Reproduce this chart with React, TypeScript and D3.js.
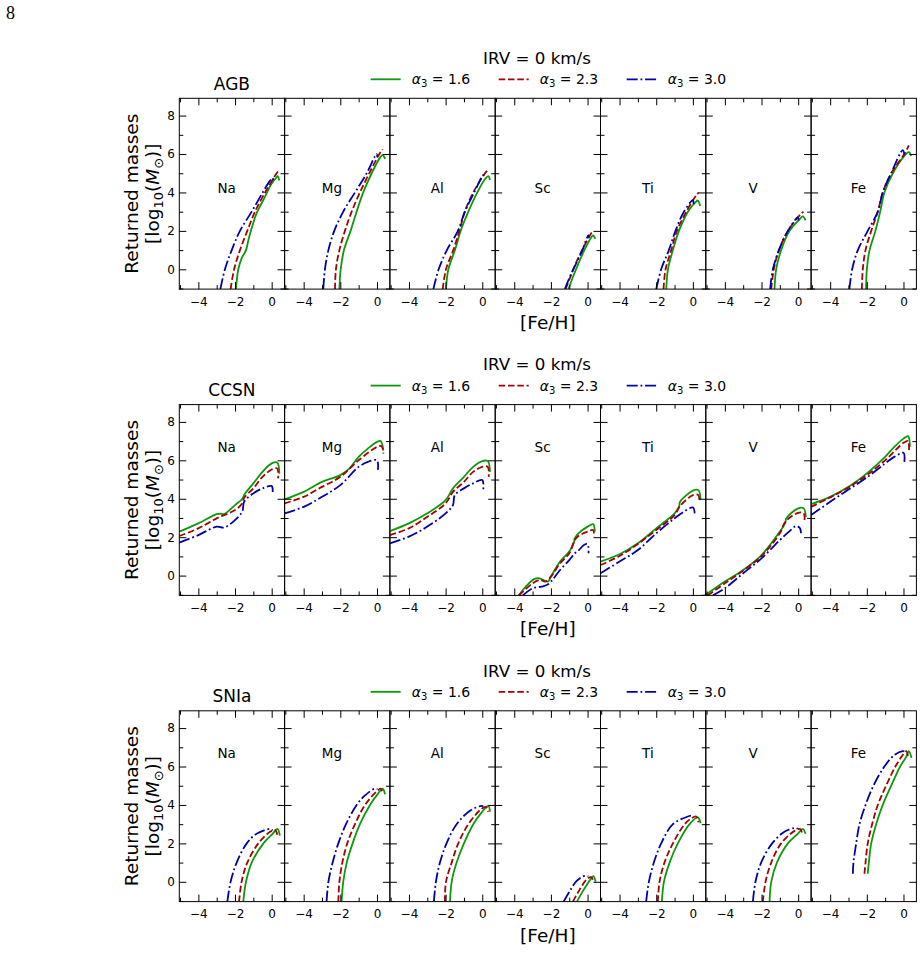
import { useEffect, useRef } from "react";
import * as d3 from "d3";

type Pt = [number, number];

const ELEMENTS = ["Na", "Mg", "Al", "Sc", "Ti", "V", "Fe"];
const SOURCES = ["AGB", "CCSN", "SNIa"];
const ALPHAS = ["1.6", "2.3", "3.0"];
const LEGEND_TITLE = "IRV = 0 km/s";
const X_MAJOR = [-4, -2, 0];
const X_MINOR = [-5, -3, -1];
const Y_MAJOR = [0, 2, 4, 6, 8];
const Y_MINOR = [-1, 1, 3, 5, 7];
// height (in log M) where the element name sits, per source
const LABEL_LEVEL = [4.2, 6.7, 6.7];

// AGB yields, one curve per element
const agbA16: Pt[][] = [
  [[-1.95, -1.03], [-1.82, 0], [-1.64, 0.57], [-1.4, 1.0], [-1.27, 1.53], [-1.09, 2.14], [-0.82, 2.92], [-0.36, 3.78], [-0.05, 4.39], [0.27, 4.79], [0.33, 4.85], [0.42, 4.62]],
  [[-2.05, -1.03], [-1.98, 0], [-1.8, 1], [-1.44, 2], [-1.11, 3], [-0.75, 4], [-0.29, 5], [0.16, 5.8], [0.31, 5.95], [0.44, 5.75]],
  [[-1.98, -1.03], [-1.85, 0], [-1.49, 1], [-1.18, 2], [-0.76, 3], [-0.27, 4], [0.15, 4.7], [0.33, 4.85], [0.42, 4.65]],
  [[-1.04, -1.03], [-0.8, -0.4], [-0.5, 0.3], [-0.2, 0.95], [0.1, 1.5], [0.3, 1.76], [0.42, 1.58]],
  [[-1.45, -1.03], [-1.36, 0], [-1.09, 1], [-0.76, 2], [-0.27, 3], [0.15, 3.5], [0.27, 3.58], [0.4, 3.3]],
  [[-1.29, -1.03], [-1.2, 0], [-0.93, 1], [-0.47, 2], [0.07, 2.6], [0.25, 2.75], [0.4, 2.55]],
  [[-2.04, -1.03], [-2.0, 0], [-1.85, 1], [-1.53, 2], [-1.27, 3], [-1.04, 4], [-0.58, 5], [-0.04, 5.8], [0.29, 6.1], [0.42, 5.9]],
];
const agbA23: Pt[][] = [
  [[-2.24, -1.03], [-2.05, 0], [-1.73, 1], [-1.33, 2], [-0.91, 3], [-0.36, 4], [-0.05, 4.5], [0.2, 4.9], [0.35, 5.1]],
  [[-2.29, -1.03], [-2.24, 0], [-2.05, 1], [-1.75, 2], [-1.38, 3], [-0.93, 4], [-0.42, 5], [0.13, 6], [0.31, 6.25]],
  [[-2.16, -1.03], [-1.98, 0], [-1.58, 1], [-1.25, 2], [-0.95, 3], [-0.49, 4], [0.15, 5], [0.33, 5.2]],
  [[-1.2, -1.03], [-0.9, -0.3], [-0.6, 0.4], [-0.3, 1.0], [0, 1.55], [0.25, 1.95], [0.33, 2.02]],
  [[-1.6, -1.03], [-1.49, 0], [-1.18, 1], [-0.87, 2], [-0.36, 3], [0.22, 3.9], [0.33, 4.0]],
  [[-1.47, -1.03], [-1.33, 0], [-1.05, 1], [-0.56, 2], [0.16, 2.9], [0.29, 3.0]],
  [[-2.27, -1.03], [-2.22, 0], [-2.07, 1], [-1.76, 2], [-1.4, 3], [-1.13, 4], [-0.67, 5], [0.05, 6], [0.29, 6.45]],
];
const agbA30: Pt[][] = [
  [[-2.8, -1.03], [-2.55, 0], [-2.18, 1], [-1.73, 2], [-1.09, 3], [-0.49, 4], [-0.1, 4.6], [0.05, 4.75], [0.08, 4.55]],
  [[-2.93, -1.03], [-2.84, 0], [-2.65, 1], [-2.33, 2], [-1.84, 3], [-1.2, 4], [-0.56, 5], [-0.02, 6], [0.02, 5.85]],
  [[-2.67, -1.03], [-2.38, 0], [-1.93, 1], [-1.33, 2], [-0.95, 3], [-0.44, 4], [0.05, 4.9], [0.08, 4.7]],
  [[-1.24, -1.03], [-0.95, -0.35], [-0.6, 0.35], [-0.3, 0.95], [-0.05, 1.6], [0.05, 1.78], [0.08, 1.65]],
  [[-2.0, -1.03], [-1.73, 0], [-1.31, 1], [-0.95, 2], [-0.49, 3], [0.0, 3.6], [0.04, 3.4]],
  [[-1.53, -1.03], [-1.38, 0], [-1.05, 1], [-0.56, 2], [-0.02, 2.7], [0.03, 2.55]],
  [[-2.95, -1.03], [-2.8, 0], [-2.49, 1], [-1.95, 2], [-1.4, 3], [-1.13, 4], [-0.67, 5], [-0.04, 6.2], [0.05, 5.95]],
];

// core-collapse SN yields
const ccsnA16: Pt[][] = [
  [[-5.04, 2.29], [-4, 2.72], [-3, 3.2], [-2.8, 3.22], [-2.6, 3.2], [-2, 3.67], [-1.6, 4.0], [-1.5, 4.2], [-1, 4.8], [-0.5, 5.4], [0, 5.84], [0.3, 5.89], [0.42, 5.3]],
  [[-5.04, 3.97], [-4, 4.36], [-3, 4.88], [-2, 5.23], [-1.5, 5.58], [-1, 6.18], [-0.5, 6.61], [0, 6.96], [0.2, 7.0], [0.35, 6.5]],
  [[-5.04, 2.32], [-4, 2.72], [-3, 3.24], [-2, 3.93], [-1.6, 4.54], [-1, 5.14], [-0.5, 5.66], [0, 5.96], [0.3, 5.96], [0.42, 5.4]],
  [[-3.75, -1.03], [-3.3, -0.5], [-2.89, -0.17], [-2.62, -0.14], [-2.16, -0.31], [-2, -0.05], [-1.5, 0.73], [-1, 1.25], [-0.75, 1.7], [-0.7, 1.94], [-0.5, 2.2], [0, 2.55], [0.3, 2.68], [0.4, 2.29]],
  [[-5.04, 0.73], [-4, 1.11], [-3, 1.68], [-2, 2.46], [-1, 3.24], [-0.75, 3.6], [-0.7, 3.84], [0, 4.42], [0.3, 4.45], [0.42, 3.93]],
  [[-5.04, -1.0], [-4, -0.31], [-3, 0.29], [-2, 1.07], [-1, 2.29], [-0.7, 2.75], [-0.65, 2.98], [0, 3.5], [0.3, 3.5], [0.42, 3.06]],
  [[-5.04, 3.72], [-4, 4.1], [-3, 4.62], [-2, 5.32], [-1, 6.18], [-0.5, 6.7], [0, 7.13], [0.25, 7.26], [0.35, 6.7]],
];
const ccsnA23: Pt[][] = [
  [[-5.04, 2.06], [-4, 2.46], [-3, 2.98], [-2, 3.41], [-1.6, 3.76], [-1.5, 4.05], [-1, 4.54], [-0.5, 5.14], [0, 5.52], [0.3, 5.58], [0.35, 5.06]],
  [[-5.04, 3.76], [-4, 4.1], [-3, 4.62], [-2, 5.14], [-1, 6.0], [0, 6.7], [0.25, 6.74], [0.35, 6.35]],
  [[-5.04, 2.11], [-4, 2.46], [-3, 3.06], [-2, 3.76], [-1.6, 4.36], [-1, 4.88], [-0.5, 5.4], [0, 5.66], [0.3, 5.66], [0.35, 5.14]],
  [[-3.75, -1.03], [-3, -0.4], [-2.6, -0.22], [-2.3, -0.31], [-2, -0.05], [-1.5, 0.64], [-1, 1.16], [-0.7, 1.85], [-0.5, 2.06], [0, 2.29], [0.3, 2.37], [0.35, 2.03]],
  [[-5.04, 0.55], [-4, 1.02], [-3, 1.65], [-2, 2.37], [-1, 3.15], [-0.7, 3.62], [0, 4.19], [0.3, 4.19], [0.35, 3.84]],
  [[-4.93, -1.03], [-4, -0.4], [-3, 0.26], [-2, 1.02], [-1, 2.2], [-0.7, 2.8], [0, 3.27], [0.3, 3.24], [0.35, 2.89]],
  [[-5.04, 3.58], [-4, 4.07], [-3, 4.59], [-2, 5.23], [-1, 6.0], [0, 6.91], [0.25, 7.01], [0.3, 6.53]],
];
const ccsnA30: Pt[][] = [
  [[-5.04, 1.72], [-4, 2.11], [-3, 2.55], [-2.6, 2.5], [-2, 2.89], [-1.6, 3.35], [-1.5, 3.85], [-1, 4.28], [-0.5, 4.54], [0, 4.66], [0.05, 4.2]],
  [[-5.04, 3.24], [-4, 3.58], [-3, 4.1], [-2, 4.71], [-1, 5.66], [-0.5, 5.92], [0, 6.0], [0.05, 5.5]],
  [[-5.04, 1.68], [-4, 2.03], [-3, 2.55], [-2, 3.24], [-1.6, 3.67], [-1.5, 4.19], [-1, 4.54], [-0.5, 4.8], [0, 4.97], [0.05, 4.36]],
  [[-3.53, -1.03], [-3, -0.66], [-2.5, -0.57], [-2.2, -0.48], [-2, -0.31], [-1.5, 0.29], [-1, 0.81], [-0.7, 1.16], [-0.5, 1.3], [-0.2, 1.59], [0, 1.64], [0.05, 1.16]],
  [[-5.04, 0.12], [-4, 0.73], [-3, 1.33], [-2, 2.2], [-1, 2.98], [-0.5, 3.32], [0, 3.55], [0.1, 3.24]],
  [[-4.65, -1.03], [-4, -0.66], [-3, 0.12], [-2, 0.9], [-1, 1.85], [-0.5, 2.29], [-0.1, 2.58], [0.1, 2.46], [0.15, 2.2]],
  [[-5.04, 3.15], [-4, 3.84], [-3, 4.48], [-2, 5.11], [-1, 5.84], [-0.5, 6.18], [0, 6.39], [0.05, 5.92]],
];

// type Ia SN yields
const sniaA16: Pt[][] = [
  [[-1.55, -1.03], [-1.4, 0], [-1.09, 1], [-0.45, 2], [0.05, 2.5], [0.31, 2.75], [0.45, 2.4]],
  [[-1.93, -1.03], [-1.84, 0], [-1.65, 1], [-1.33, 2], [-0.93, 3], [-0.38, 4], [0.07, 4.6], [0.31, 4.85], [0.44, 4.55]],
  [[-1.76, -1.03], [-1.67, 0], [-1.4, 1], [-1.0, 2], [-0.49, 3], [-0.04, 3.6], [0.33, 3.95], [0.42, 3.65]],
  [[-0.58, -1.03], [-0.3, -0.55], [0, -0.1], [0.2, 0.18], [0.32, 0.3], [0.44, 0.0]],
  [[-1.69, -1.03], [-1.58, 0], [-1.27, 1], [-0.82, 2], [-0.18, 3], [0.27, 3.35], [0.42, 3.05]],
  [[-1.56, -1.03], [-1.47, 0], [-1.16, 1], [-0.56, 2], [-0.02, 2.5], [0.25, 2.75], [0.4, 2.5]],
  [[-1.95, 0.42], [-1.89, 1], [-1.76, 2], [-1.49, 3], [-1.13, 4], [-0.67, 5], [-0.18, 6], [0.15, 6.5], [0.29, 6.8], [0.44, 6.45]],
];
const sniaA23: Pt[][] = [
  [[-1.78, -1.03], [-1.64, 0], [-1.33, 1], [-0.73, 2], [-0.09, 2.6], [0.18, 2.7], [0.31, 2.45]],
  [[-2.11, -1.03], [-2.05, 0], [-1.89, 1], [-1.62, 2], [-1.2, 3], [-0.65, 4], [-0.02, 4.7], [0.2, 4.85], [0.31, 4.6]],
  [[-2.04, -1.03], [-1.98, 0], [-1.67, 1], [-1.31, 2], [-0.76, 3], [-0.04, 3.8], [0.2, 3.9], [0.33, 3.65]],
  [[-0.8, -1.03], [-0.44, -0.42], [-0.07, 0.1], [0.2, 0.24], [0.33, -0.03]],
  [[-1.91, -1.03], [-1.82, 0], [-1.55, 1], [-1.09, 2], [-0.45, 3], [-0.09, 3.3], [0.18, 3.4], [0.31, 3.1]],
  [[-1.93, -1.03], [-1.78, 0], [-1.47, 1], [-0.93, 2], [-0.2, 2.65], [0.11, 2.75], [0.22, 2.5]],
  [[-2.13, 0.42], [-2.07, 1], [-1.95, 2], [-1.71, 3], [-1.4, 4], [-0.95, 5], [-0.44, 6], [-0.04, 6.6], [0.15, 6.8], [0.25, 6.5]],
];
const sniaA30: Pt[][] = [
  [[-2.42, -1.03], [-2.24, 0], [-1.91, 1], [-1.36, 2], [-0.82, 2.5], [-0.09, 2.75], [0.05, 2.67]],
  [[-2.75, -1.03], [-2.65, 0], [-2.42, 1], [-2.11, 2], [-1.69, 3], [-1.11, 4], [-0.65, 4.5], [-0.11, 4.85], [0.02, 4.83]],
  [[-2.64, -1.03], [-2.53, 0], [-2.31, 1], [-1.95, 2], [-1.4, 3], [-0.67, 3.7], [-0.04, 3.95], [0.05, 3.92]],
  [[-1.31, -1.03], [-0.98, -0.5], [-0.62, 0.02], [-0.25, 0.28], [-0.04, 0.31], [0.04, 0.28]],
  [[-2.55, -1.03], [-2.4, 0], [-2.13, 1], [-1.73, 2], [-1.09, 3], [-0.27, 3.4], [-0.04, 3.45]],
  [[-2.47, -1.03], [-2.33, 0], [-2.02, 1], [-1.42, 2], [-0.75, 2.6], [-0.2, 2.8], [-0.02, 2.76]],
  [[-2.76, 0.42], [-2.73, 1], [-2.58, 2], [-2.4, 3], [-2.07, 4], [-1.64, 5], [-1.04, 6], [-0.49, 6.6], [-0.04, 6.8], [0.05, 6.78]],
];

const ROWS = [
  [agbA16, agbA23, agbA30],
  [ccsnA16, ccsnA23, ccsnA30],
  [sniaA16, sniaA23, sniaA30],
];

const STYLES = [
  { color: "#0c9a0c", dash: null as string | null },
  { color: "#a80000", dash: "6.5,2.8" },
  { color: "#0000a8", dash: "11,2.8,1.8,2.8" },
];

const FONT = "DejaVu Sans, sans-serif";

export default function App() {
  const svgRef = useRef<SVGSVGElement>(null);

  useEffect(() => {
    if (!svgRef.current) return;
    const svg = d3.select(svgRef.current);
    svg.selectAll("*").remove();

    const left = 179.3;
    const panelW = 105.3;
    const panelH = 190.8;
    const rowTop = [98.3, 404.6, 710.8];
    const figCenter = left + (panelW * ELEMENTS.length) / 2;

    const x = d3.scaleLinear().domain([-5.04, 0.705]).range([0, panelW]);
    const y = d3.scaleLinear().domain([-1.03, 8.9]).range([panelH, 0]);
    const line = d3
      .line<Pt>()
      .x((d) => x(d[0]))
      .y((d) => y(d[1]))
      .curve(d3.curveCatmullRom.alpha(0.5));
    const intFmt = d3.format("d");

    const defs = svg.append("defs");
    defs
      .append("clipPath")
      .attr("id", "panel-clip")
      .append("rect")
      .attr("width", panelW)
      .attr("height", panelH);

    // page number
    svg
      .append("text")
      .attr("x", 6)
      .attr("y", 19)
      .attr("font-family", "Liberation Serif, serif")
      .attr("font-size", 18)
      .text("8");

    const styleAxis = (g: d3.Selection<SVGGElement, unknown, null, undefined>) => {
      g.select(".domain").remove();
      g.selectAll("line").attr("stroke", "#000").attr("stroke-width", 1);
      g.selectAll("text")
        .attr("fill", "#000")
        .attr("font-family", FONT)
        .attr("font-size", 12);
    };

    ROWS.forEach((series, r) => {
      const top = rowTop[r];

      // legend
      svg
        .append("text")
        .attr("x", 537)
        .attr("y", top - 34.3)
        .attr("text-anchor", "middle")
        .attr("font-family", FONT)
        .attr("font-size", 16.7)
        .text(LEGEND_TITLE);

      ALPHAS.forEach((a, i) => {
        const x0 = 370.7 + i * 128;
        const ly = top - 19;
        const st = STYLES[i];
        svg
          .append("line")
          .attr("x1", x0)
          .attr("x2", x0 + 30)
          .attr("y1", ly)
          .attr("y2", ly)
          .attr("stroke", st.color)
          .attr("stroke-width", 1.8)
          .attr("stroke-dasharray", st.dash);
        const t = svg
          .append("text")
          .attr("x", x0 + 41)
          .attr("y", ly + 5)
          .attr("font-family", FONT)
          .attr("font-size", 14);
        t.append("tspan").attr("font-style", "italic").text("α");
        t.append("tspan").attr("font-size", 10).attr("dy", 3).text("3");
        t.append("tspan").attr("dy", -3).text(` = ${a}`);
      });

      // source title over the first panel
      svg
        .append("text")
        .attr("x", left + panelW / 2)
        .attr("y", top - 8.5)
        .attr("text-anchor", "middle")
        .attr("font-family", FONT)
        .attr("font-size", 17)
        .text(SOURCES[r]);

      // y label
      const cy = top + panelH / 2;
      svg
        .append("text")
        .attr("transform", `translate(138,${cy}) rotate(-90)`)
        .attr("text-anchor", "middle")
        .attr("font-family", FONT)
        .attr("font-size", 18.5)
        .text("Returned masses");
      const yl = svg
        .append("text")
        .attr("transform", `translate(158.5,${cy}) rotate(-90)`)
        .attr("text-anchor", "middle")
        .attr("font-family", FONT)
        .attr("font-size", 18.5);
      yl.append("tspan").text("[log");
      yl.append("tspan").attr("font-size", 13).attr("dy", 4).text("10");
      yl.append("tspan").attr("dy", -4).text("(");
      yl.append("tspan").attr("font-style", "italic").text("M");
      yl.append("tspan").attr("font-size", 13).attr("dy", 4).text("⊙");
      yl.append("tspan").attr("dy", -4).text(")]");

      // x label
      svg
        .append("text")
        .attr("x", figCenter)
        .attr("y", top + panelH + 40)
        .attr("text-anchor", "middle")
        .attr("font-family", FONT)
        .attr("font-size", 18.5)
        .text("[Fe/H]");

      ELEMENTS.forEach((el, k) => {
        const g = svg
          .append("g")
          .attr("transform", `translate(${left + k * panelW},${top})`);

        const plot = g.append("g").attr("clip-path", "url(#panel-clip)");
        series.forEach((s, i) => {
          const st = STYLES[i];
          plot
            .append("path")
            .attr("d", line(s[k]))
            .attr("fill", "none")
            .attr("stroke", st.color)
            .attr("stroke-width", 1.8)
            .attr("stroke-linejoin", "round")
            .attr("stroke-dasharray", st.dash);
        });

        // ticks on all four sides, pointing inward
        g.append("g")
          .attr("transform", `translate(0,${panelH})`)
          .call(
            d3
              .axisBottom(x)
              .tickValues(X_MAJOR)
              .tickSize(-7)
              .tickPadding(8)
              .tickFormat((d) => intFmt(d as number))
          )
          .call(styleAxis);
        g.append("g")
          .attr("transform", `translate(0,${panelH})`)
          .call(d3.axisBottom(x).tickValues(X_MINOR).tickSize(-4).tickFormat(() => ""))
          .call(styleAxis);
        g.append("g")
          .call(d3.axisTop(x).tickValues(X_MAJOR).tickSize(-7).tickFormat(() => ""))
          .call(styleAxis);
        g.append("g")
          .call(d3.axisTop(x).tickValues(X_MINOR).tickSize(-4).tickFormat(() => ""))
          .call(styleAxis);
        g.append("g")
          .call(
            d3
              .axisLeft(y)
              .tickValues(Y_MAJOR)
              .tickSize(-7)
              .tickPadding(4.5)
              .tickFormat((d) => (k === 0 ? intFmt(d as number) : ""))
          )
          .call(styleAxis);
        g.append("g")
          .call(d3.axisLeft(y).tickValues(Y_MINOR).tickSize(-4).tickFormat(() => ""))
          .call(styleAxis);
        g.append("g")
          .attr("transform", `translate(${panelW},0)`)
          .call(d3.axisRight(y).tickValues(Y_MAJOR).tickSize(-7).tickFormat(() => ""))
          .call(styleAxis);
        g.append("g")
          .attr("transform", `translate(${panelW},0)`)
          .call(d3.axisRight(y).tickValues(Y_MINOR).tickSize(-4).tickFormat(() => ""))
          .call(styleAxis);

        g.append("rect")
          .attr("width", panelW)
          .attr("height", panelH)
          .attr("fill", "none")
          .attr("stroke", "#000")
          .attr("stroke-width", 1);

        g.append("text")
          .attr("x", panelW * 0.45)
          .attr("y", y(LABEL_LEVEL[r]))
          .attr("dy", "0.36em")
          .attr("text-anchor", "middle")
          .attr("font-family", FONT)
          .attr("font-size", 13.5)
          .text(el);
      });
    });
  }, []);

  return (
    <svg
      ref={svgRef}
      width={924}
      height={977}
      style={{ position: "absolute", left: 0, top: 0, background: "#fff" }}
    />
  );
}
